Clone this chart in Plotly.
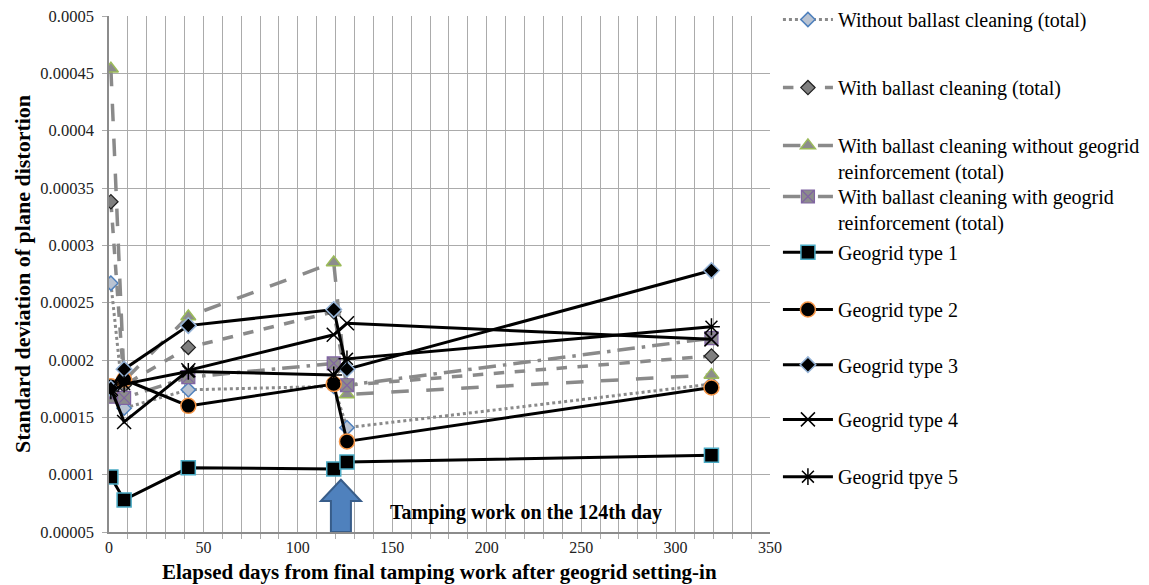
import plotly.graph_objects as go

# Elapsed days of each measurement
days = [1, 8, 42, 119, 126, 319]

# Standard deviation of plane distortion per series
without_cleaning = [0.000267, 0.000158, 0.000174, 0.000177, 0.000141, 0.000179]
with_cleaning = [0.000338, 0.000178, 0.000211, 0.000242, 0.000178, 0.0002035]
with_cleaning_no_geogrid = [0.000454, 0.000182, 0.000238, 0.000285, 0.000170, 0.000187]
with_cleaning_geogrid = [0.000168, 0.000167, 0.000185, 0.000197, 0.000178, 0.000219]
geogrid_1 = [0.000098, 0.000078, 0.000106, 0.000105, 0.000111, 0.000117]
geogrid_2 = [0.000177, 0.000183, 0.000160, 0.000179, 0.000129, 0.000176]
geogrid_3 = [0.000175, 0.000192, 0.000230, 0.000244, 0.000192, 0.000278]
geogrid_4 = [0.000175, 0.000146, 0.000191, 0.000222, 0.000232, 0.000218]
geogrid_5 = [0.000173, 0.000179, 0.000190, 0.000187, 0.000201, 0.000229]

y_ticks = [0.00005, 0.0001, 0.00015, 0.0002, 0.00025, 0.0003, 0.00035, 0.0004, 0.00045, 0.0005]
y_tick_text = ["0.00005", "0.0001", "0.00015", "0.0002", "0.00025", "0.0003",
               "0.00035", "0.0004", "0.00045", "0.0005"]

tamping_day = 122.8
note_text = "Tamping work on the 124th day"
x_title = "Elapsed days from final tamping work after geogrid setting-in"
y_title = "Standard deviation of plane distortion"

SERIF = "Liberation Serif"
GRAY = "#8a8a8a"

# Vertical placement (paper fraction) of each legend entry's top edge
legend_tops = [1.031, 0.899, 0.787, 0.688, 0.580, 0.469, 0.362, 0.256, 0.145]

series = [
    dict(name="Without ballast cleaning (total)", y=without_cleaning,
         line=dict(color=GRAY, width=3, dash="dot"),
         marker=dict(symbol="diamond", size=11, color="#b9c3d2",
                     line=dict(color="#4f81bd", width=1.5))),
    dict(name="With ballast cleaning (total)", y=with_cleaning,
         line=dict(color=GRAY, width=3.5, dash="dash"),
         marker=dict(symbol="diamond", size=11, color="#7f7f7f",
                     line=dict(color="#202020", width=1.2))),
    dict(name="With ballast cleaning without geogrid<br>reinforcement (total)",
         y=with_cleaning_no_geogrid,
         line=dict(color=GRAY, width=3.5, dash="longdash"),
         marker=dict(symbol="triangle-up", size=13, color="#8c8c8c",
                     line=dict(color="#9bbb59", width=1.5))),
    dict(name="With ballast cleaning with geogrid<br>reinforcement (total)",
         y=with_cleaning_geogrid,
         line=dict(color=GRAY, width=3.5, dash="longdashdot"),
         marker=dict(symbol="square-x", size=13, color="#8c8c8c",
                     line=dict(color="#8064a2", width=1.2))),
    dict(name="Geogrid type 1", y=geogrid_1,
         line=dict(color="black", width=3),
         marker=dict(symbol="square", size=14, color="black",
                     line=dict(color="#4bacc6", width=1.5))),
    dict(name="Geogrid type 2", y=geogrid_2,
         line=dict(color="black", width=3),
         marker=dict(symbol="circle", size=15, color="black",
                     line=dict(color="#f79646", width=1.5))),
    dict(name="Geogrid type 3", y=geogrid_3,
         line=dict(color="black", width=3),
         marker=dict(symbol="diamond", size=12, color="black",
                     line=dict(color="#95b3d7", width=1.5))),
    dict(name="Geogrid type 4", y=geogrid_4,
         line=dict(color="black", width=3),
         marker=dict(symbol="x-thin-open", size=14, color="black",
                     line=dict(color="black", width=1.5))),
    dict(name="Geogrid tpye 5", y=geogrid_5,
         line=dict(color="black", width=3),
         marker=dict(symbol="asterisk-open", size=14, color="black",
                     line=dict(color="black", width=1.5))),
]

fig = go.Figure()
legend_layout = {}
for i, s in enumerate(series):
    key = "legend" if i == 0 else f"legend{i + 1}"
    fig.add_trace(go.Scatter(
        x=days, y=s["y"], name=s["name"], mode="lines+markers",
        line=s["line"], marker=s["marker"], legend=key,
    ))
    legend_layout[key] = dict(
        x=1.012, y=legend_tops[i], xanchor="left", yanchor="top",
        font=dict(family=SERIF, size=20, color="black"),
        itemwidth=50, valign="top", bgcolor="rgba(0,0,0,0)",
    )

# Upward block arrow marking the tamping work
ax0, aw, hw = tamping_day, 5.3, 10.6
y_base, y_neck, y_tip = 0.00005, 0.000077, 0.0000955
arrow_path = (f"M {ax0 - aw},{y_base} L {ax0 - aw},{y_neck} L {ax0 - hw},{y_neck} "
              f"L {ax0},{y_tip} L {ax0 + hw},{y_neck} L {ax0 + aw},{y_neck} "
              f"L {ax0 + aw},{y_base} Z")
fig.add_shape(type="path", path=arrow_path, xref="x", yref="y",
              fillcolor="#4f81bd", line=dict(color="#385d8a", width=2), layer="above")

fig.add_annotation(x=221, y=0.0000672, xref="x", yref="y", text=f"<b>{note_text}</b>",
                   showarrow=False, font=dict(family=SERIF, size=20, color="black"))

# Horizontal axis title placed just under the tick labels
fig.add_annotation(x=0.5, y=-0.078, xref="paper", yref="paper", yanchor="middle",
                   text=f"<b>{x_title}</b>", showarrow=False,
                   font=dict(family=SERIF, size=21, color="black"))

grid = "#ababab"
fig.update_xaxes(
    range=[0, 350], dtick=50, tick0=0,
    showgrid=True, gridcolor=grid, gridwidth=1,
    minor=dict(dtick=10, showgrid=True, gridcolor=grid, gridwidth=1,
               ticks="outside", ticklen=5, tickcolor=grid),
    ticks="", tickcolor=grid,
    showline=True, linecolor="#8c8c8c", linewidth=1.5,
    zeroline=False,
    tickfont=dict(family=SERIF, size=16, color="#222"),
)
fig.update_yaxes(
    range=[0.00005, 0.0005], tickvals=y_ticks, ticktext=y_tick_text,
    showgrid=True, gridcolor=grid, gridwidth=1,
    ticks="outside", ticklen=5, tickcolor=grid,
    showline=True, linecolor="#8c8c8c", linewidth=1.5,
    zeroline=False, ticklabelstandoff=5,
    tickfont=dict(family=SERIF, size=16.5, color="#222"),
    title=dict(text=f"<b>{y_title}</b>",
               font=dict(family=SERIF, size=22, color="black"), standoff=4),
)

fig.update_layout(
    width=1149, height=585,
    margin=dict(l=109, r=379, t=16, b=53, autoexpand=False),
    paper_bgcolor="white", plot_bgcolor="white",
    showlegend=True,
    **legend_layout,
)

fig.write_html("out.html")
